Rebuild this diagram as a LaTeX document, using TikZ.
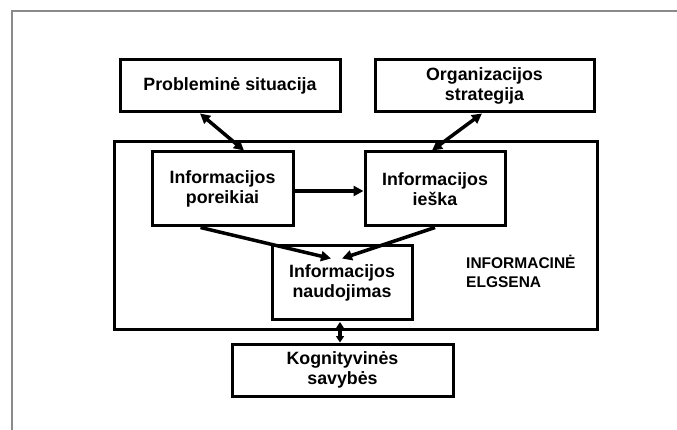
\documentclass[tikz,border=0pt]{standalone}
\usepackage{fontspec}
\setmainfont{Liberation Sans}
\usetikzlibrary{arrows.meta}
\definecolor{framegray}{HTML}{8A8A8A}
\tikzset{
  box/.style={draw=black, line width=3pt, rectangle, align=center,
    inner sep=0pt, font=\fontsize{17.8}{20}\selectfont\bfseries},
  link/.style={line width=3.5pt, -{Triangle[length=10pt,width=10pt]}},
  duplex/.style={line width=3.5pt, {Triangle[length=10pt,width=10pt]}-{Triangle[length=10pt,width=10pt]}},
  shortduplex/.style={line width=3.5pt, {Triangle[length=6.5pt,width=8pt]}-{Triangle[length=6.5pt,width=8pt]}}
}
\begin{document}
\begin{tikzpicture}[x=1pt,y=-1pt]
\useasboundingbox (0,0) rectangle (677,430);
% page frame
\draw[framegray, line width=2pt] (12,431) -- (12,11) -- (678,11);

% outer box: information behaviour
\node[box, minimum width=483pt, minimum height=187pt] (elg) at (355.5,235.5) {};
\node[anchor=west, align=left, inner sep=0pt,
  font=\fontsize{15.5}{19}\selectfont\bfseries] (elglabel) at (466,271.5) {INFORMACINĖ\\ELGSENA};

% context boxes
\node[box, minimum width=220pt, minimum height=52pt] (prob) at (230,86) {Probleminė situacija};
\node[box, minimum width=219pt, minimum height=52pt] (org) at (484.5,86) {Organizacijos\\strategija};

% inner process boxes
\node[box, minimum width=141pt, minimum height=74pt] (por) at (222.5,189) {Informacijos\\poreikiai};
\node[box, minimum width=140pt, minimum height=74pt] (ies) at (435,189) {Informacijos\\ieška};
\node[box, minimum width=140pt, minimum height=73pt] (nau) at (342,282.5) {Informacijos\\naudojimas};
\node[box, minimum width=221pt, minimum height=52pt] (kog) at (342.5,370) {Kognityvinės\\savybės};

% connectors
\draw[duplex] ([xshift=-30pt]prob.south) -- ([xshift=21.5pt]por.north);
\draw[duplex] ([xshift=-2.5pt]org.south) -- ([xshift=-3pt]ies.north);
\draw[link] ([yshift=-2pt]por.east) -- ([yshift=-2pt]ies.west);
\draw[link] ([xshift=-22pt]por.south) -- ([xshift=-11pt,yshift=-14pt]nau.north);
\draw[link] (ies.south) -- ([yshift=-14pt]nau.north);
\draw[shortduplex] ([xshift=-2pt,yshift=-1.5pt]nau.south) -- ([xshift=-2.5pt]kog.north);
\end{tikzpicture}
\end{document}
